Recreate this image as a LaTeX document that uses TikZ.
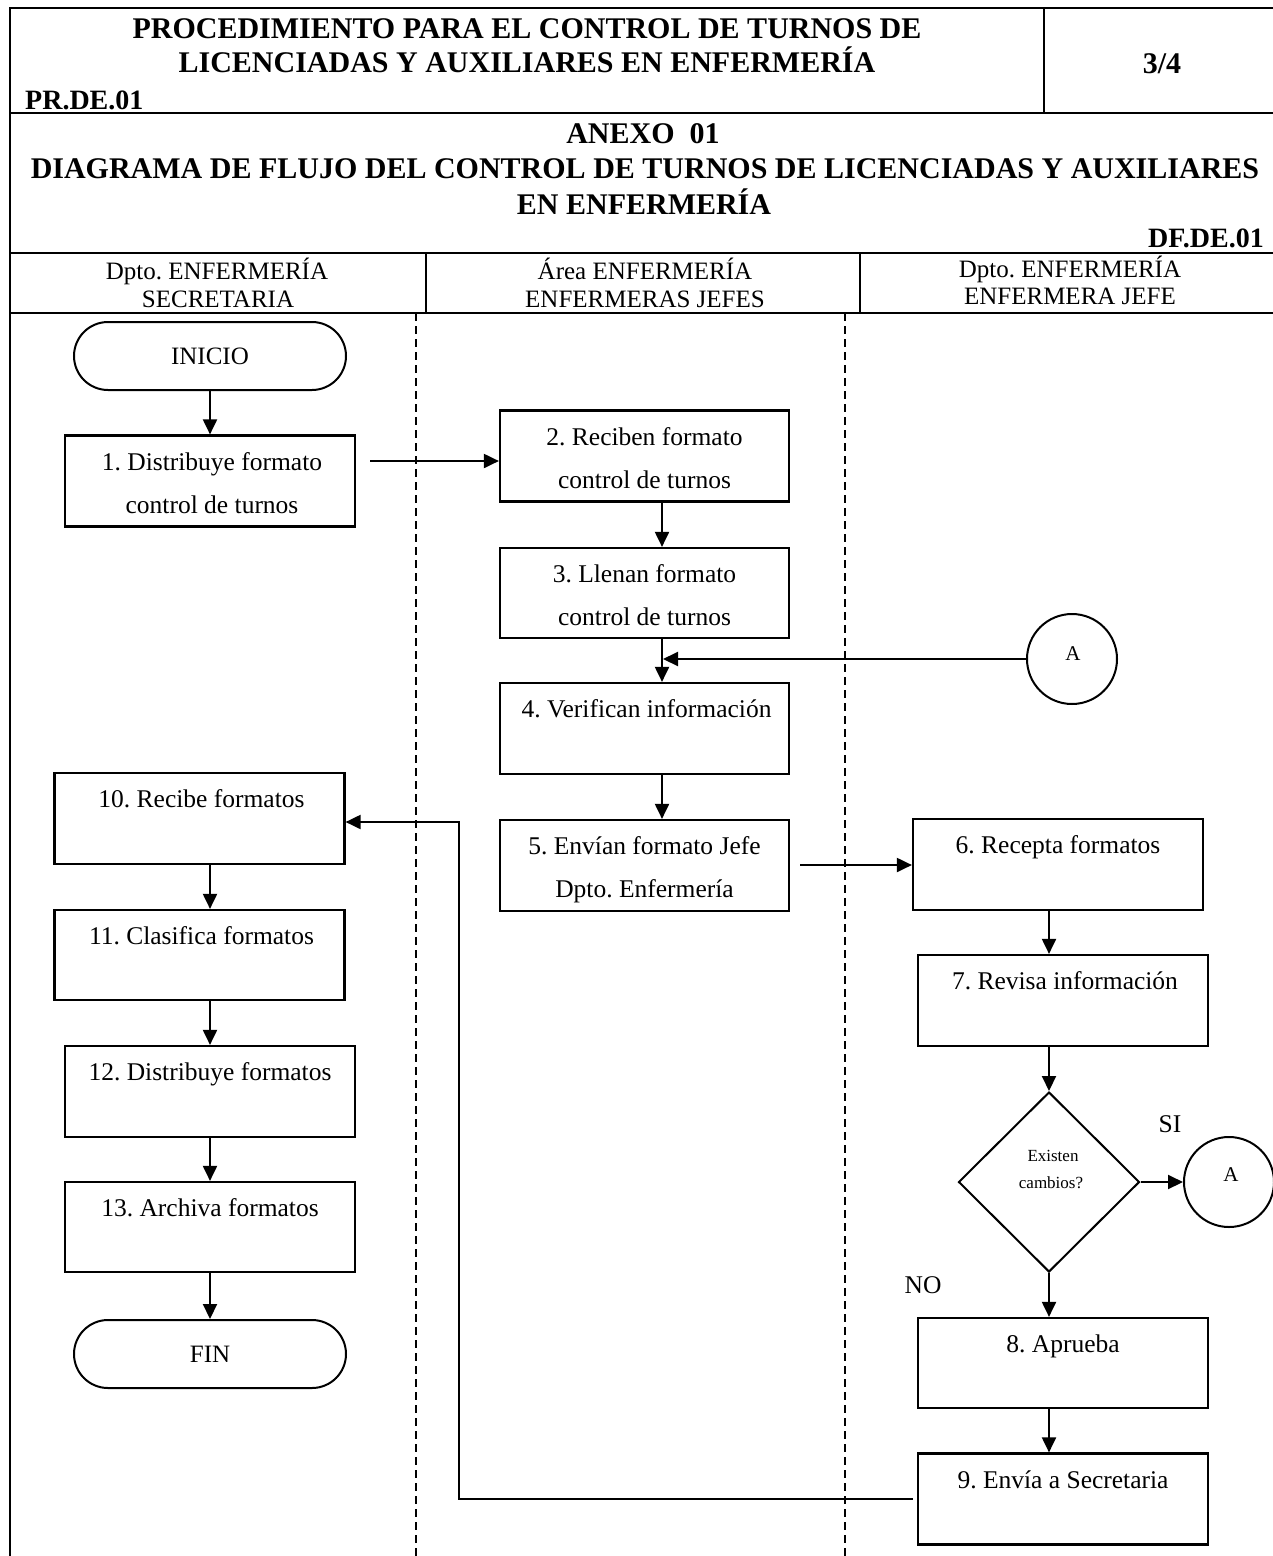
\documentclass[tikz,border=0pt]{standalone}
\usepackage{fontspec}
\setmainfont{Liberation Serif}
\usetikzlibrary{arrows.meta,shapes.geometric,calc}
\begin{document}
\frenchspacing
\begin{tikzpicture}[x=1pt,y=-1pt,
  frame/.style={line width=2.2pt},
  lane/.style={line width=1.6pt, dash pattern=on 8pt off 5pt},
  proc/.style={draw, line width=2.2pt, minimum width=290pt, minimum height=91pt, inner sep=0pt},
  bt/.style={anchor=base, inner sep=0pt, font=\fontsize{25.5}{30}\selectfont},
  term/.style={draw, line width=2pt, rounded corners=34pt, minimum width=272pt, minimum height=68pt, inner sep=0pt, font=\fontsize{25}{30}\selectfont},
  conn/.style={draw, circle, line width=2pt, minimum size=90pt, inner sep=0pt},
  ctext/.style={anchor=base, inner sep=0pt, font=\fontsize{21}{24}\selectfont},
  dec/.style={draw, diamond, aspect=1, line width=2pt, minimum width=181pt, minimum height=180pt, inner sep=0pt},
  arr/.style={line width=2pt, -{Triangle[length=15pt,width=14pt]}},
  ttl/.style={anchor=base, inner sep=0pt, font=\bfseries\fontsize{30}{36}\selectfont},
  hdr/.style={anchor=base, inner sep=0pt, font=\fontsize{25}{30}\selectfont},
  small/.style={anchor=base, inner sep=0pt, font=\fontsize{17}{20}\selectfont},
]
\useasboundingbox (0,0) rectangle (1273,1556);
\fill[white] (0,0) rectangle (1273,1556);

% frame
\draw[frame] (10,1556) -- (10,8) -- (1273,8);
\draw[frame] (10,113) -- (1273,113);
\draw[frame] (10,253) -- (1273,253);
\draw[frame] (10,313) -- (1273,313);
\draw[frame] (1044,8) -- (1044,113);
\draw[frame] (426,253) -- (426,313);
\draw[frame] (860,253) -- (860,313);
\draw[lane] (416,313) -- (416,1556);
\draw[lane] (845,313) -- (845,1556);

% titles
\node[ttl] (t1) at (527,38) {PROCEDIMIENTO PARA EL CONTROL DE TURNOS DE};
\node[ttl] (t2) at (527,72) {LICENCIADAS Y AUXILIARES EN ENFERMERÍA};
\node[ttl, anchor=base west, font=\bfseries\fontsize{28}{34}\selectfont] (code) at (25,109) {PR.DE.01};
\node[ttl] (pg) at (1162,73) {3/4};
\node[ttl] (anx) at (643,143) {ANEXO\ \ 01};
\node[ttl] (dg1) at (645,178) {DIAGRAMA DE FLUJO DEL CONTROL DE TURNOS DE LICENCIADAS Y AUXILIARES};
\node[ttl] (dg2) at (644,214) {EN ENFERMERÍA};
\node[ttl, anchor=base east, font=\bfseries\fontsize{28}{34}\selectfont] (df) at (1264,247) {DF.DE.01};

% lane headers
\node[hdr] (h1a) at (217,279) {Dpto. ENFERMERÍA};
\node[hdr] (h1b) at (218,307) {SECRETARIA};
\node[hdr] (h2a) at (645,279) {Área ENFERMERÍA};
\node[hdr] (h2b) at (645,307) {ENFERMERAS JEFES};
\node[hdr] (h3a) at (1070,277) {Dpto. ENFERMERÍA};
\node[hdr] (h3b) at (1070,304) {ENFERMERA JEFE};

% shapes
\node[term] (ini) at (210,356) {INICIO};
\node[proc] (b1) at (210,481) {};
\node[proc, minimum width=289pt] (b2) at (644.5,456) {};
\node[proc, minimum width=289pt, minimum height=90pt] (b3) at (644.5,593) {};
\node[proc, minimum width=289pt] (b4) at (644.5,728.5) {};
\node[proc, minimum width=289pt] (b5) at (644.5,865.5) {};
\node[proc] (b6) at (1058,864.5) {};
\node[proc] (b7) at (1063,1000.5) {};
\node[dec] (d) at (1049,1182) {};
\node[proc, minimum height=90pt] (b8) at (1063,1363) {};
\node[proc] (b9) at (1063,1499) {};
\node[proc] (b10) at (199.5,818.5) {};
\node[proc, minimum height=90pt] (b11) at (199.5,955) {};
\node[proc] (b12) at (210,1091.5) {};
\node[proc, minimum height=90pt] (b13) at (210,1227) {};
\node[term] (fin) at (210,1354) {FIN};
\node[conn] (ca1) at (1072,659) {};
\node[conn] (ca2) at (1229,1182) {};
\node[ctext] (ca1t) at (1073,660) {A};
\node[ctext] (ca2t) at (1231,1181) {A};

% box texts
\node[bt] (b1t1) at ($(b1.north)+(2,36)$) {1. Distribuye formato};
\node[bt] (b1t2) at ($(b1.north)+(2,79)$) {control de turnos};
\node[bt] (b2t1) at ($(b2.north)+(0,36)$) {2. Reciben formato};
\node[bt] (b2t2) at ($(b2.north)+(0,79)$) {control de turnos};
\node[bt] (b3t1) at ($(b3.north)+(0,36)$) {3. Llenan formato};
\node[bt] (b3t2) at ($(b3.north)+(0,79)$) {control de turnos};
\node[bt] (b4t1) at ($(b4.north)+(2,36)$) {4. Verifican información};
\node[bt] (b5t1) at ($(b5.north)+(0,36)$) {5. Envían formato Jefe};
\node[bt] (b5t2) at ($(b5.north)+(0,79)$) {Dpto. Enfermería};
\node[bt] (b6t1) at ($(b6.north)+(0,36)$) {6. Recepta formatos};
\node[bt] (b7t1) at ($(b7.north)+(2,36)$) {7. Revisa información};
\node[bt] (b8t1) at ($(b8.north)+(0,36)$) {8. Aprueba};
\node[bt] (b9t1) at ($(b9.north)+(0,36)$) {9. Envía a Secretaria};
\node[bt] (b10t1) at ($(b10.north)+(2,36)$) {10. Recibe formatos};
\node[bt] (b11t1) at ($(b11.north)+(2,36)$) {11. Clasifica formatos};
\node[bt] (b12t1) at ($(b12.north)+(0,36)$) {12. Distribuye formatos};
\node[bt] (b13t1) at ($(b13.north)+(0,36)$) {13. Archiva formatos};
\node[small] (dt1) at (1053,1161) {Existen};
\node[small] (dt2) at (1051,1188) {cambios?};
\node[bt] (si) at (1170,1132) {SI};
\node[bt] (no) at (923,1293) {NO};

% connectors
\coordinate (lx) at (210,0);
\coordinate (ax) at (662,0);
\coordinate (cx) at (1049,0);
\draw[arr] (ini.south) -- (b1.north);
\coordinate (p12) at (370,461);
\draw[arr] (p12) -- (p12 -| b2.west);
\draw[arr] (b2.south -| ax) -- (b3.north -| ax);
\draw[arr] (b3.south -| ax) -- (b4.north -| ax);
\coordinate (pj) at (663,659);
\draw[arr] (ca1.west) -- (pj);
\draw[arr] (b4.south -| ax) -- (b5.north -| ax);
\coordinate (p56) at (800,865);
\draw[arr] (p56) -- (p56 -| b6.west);
\draw[arr] (b6.south -| cx) -- (b7.north -| cx);
\draw[arr] (b7.south -| cx) -- (d.north);
\draw[arr] (d.east) -- (ca2.west);
\draw[arr] (d.south) -- (b8.north -| cx);
\draw[arr] (b8.south -| cx) -- (b9.north -| cx);
\coordinate (r1) at (913,1499);
\coordinate (r2) at (459,822);
\draw[arr] (r1) -| (r2) -- (r2 -| b10.east);
\draw[arr] (b10.south -| lx) -- (b11.north -| lx);
\draw[arr] (b11.south -| lx) -- (b12.north -| lx);
\draw[arr] (b12.south -| lx) -- (b13.north -| lx);
\draw[arr] (b13.south -| lx) -- (fin.north -| lx);
\end{tikzpicture}
\end{document}
